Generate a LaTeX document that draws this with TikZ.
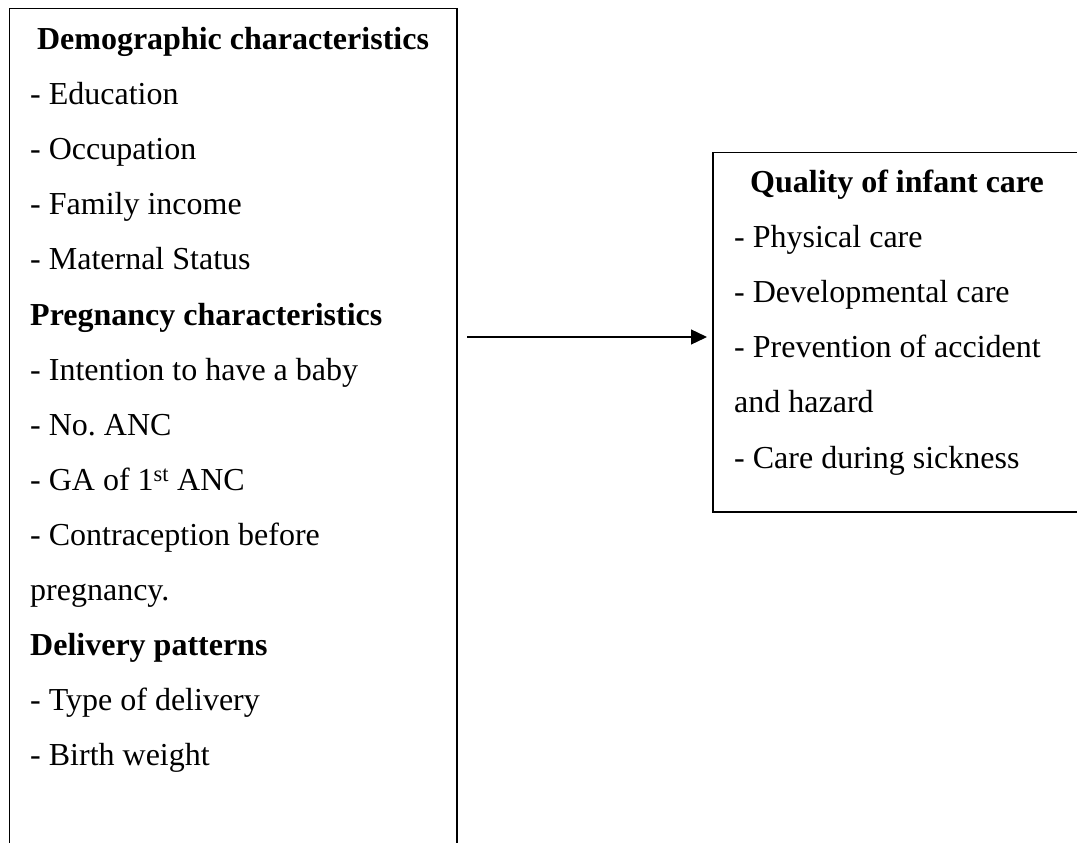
\documentclass[tikz,border=0pt]{standalone}
\usepackage{fontspec}
\setmainfont{Liberation Serif}
\usetikzlibrary{arrows.meta}
\frenchspacing
\tikzset{
  boxframe/.style={draw=black, line width=1.3pt, inner sep=0pt, rectangle},
  itemtext/.style={anchor=base west, inner sep=0pt, font=\fontsize{32pt}{38pt}\selectfont},
  headtext/.style={itemtext, font=\fontsize{32pt}{38pt}\selectfont\bfseries},
  linkarrow/.style={line width=1.3pt, -{Triangle[length=16pt,width=15pt]}}
}
\begin{document}
\begin{tikzpicture}[x=1pt,y=-1pt]
\useasboundingbox (0,0) rectangle (1077,843);
\clip (0,0) rectangle (1077,843);
\fill[white] (0,0) rectangle (1077,843);
% boxes
\node[boxframe, minimum width=447.5pt, minimum height=900pt] (L) at (233.25,458.5) {};
\node[boxframe, minimum width=380pt, minimum height=359.5pt] (R) at (903,332.25) {};
% left texts
\node[headtext, anchor=base] (l0) at (233,49.5) {Demographic characteristics};
\node[itemtext] (l1) at (30,104.6) {- Education};
\node[itemtext] (l2) at (30,159.7) {- Occupation};
\node[itemtext] (l3) at (30,214.8) {- Family income};
\node[itemtext] (l4) at (30,269.9) {- Maternal Status};
\node[headtext] (l5) at (30,325.0) {Pregnancy characteristics};
\node[itemtext] (l6) at (30,380.1) {- Intention to have a baby};
\node[itemtext] (l7) at (30,435.2) {- No. ANC};
\node[itemtext] (l8) at (30,490.3) {- GA of 1\textsuperscript{st} ANC};
\node[itemtext] (l9) at (30,545.4) {- Contraception before};
\node[itemtext] (l10) at (30,600.5) {pregnancy.};
\node[headtext] (l11) at (30,655.6) {Delivery patterns};
\node[itemtext] (l12) at (30,710.7) {- Type of delivery};
\node[itemtext] (l13) at (30,765.8) {- Birth weight};
% right texts
\node[headtext, anchor=base] (r0) at (897,192) {Quality of infant care};
\node[itemtext] (r1) at (734,247.2) {- Physical care};
\node[itemtext] (r2) at (734,302.4) {- Developmental care};
\node[itemtext] (r3) at (734,357.6) {- Prevention of accident};
\node[itemtext] (r4) at (734,412.8) {and hazard};
\node[itemtext] (r5) at (734,468.0) {- Care during sickness};
% arrow
\coordinate (a1) at (467,337);
\coordinate (a2) at (707,337);
\draw[linkarrow] (a1) -- (a2);
\end{tikzpicture}
\end{document}
